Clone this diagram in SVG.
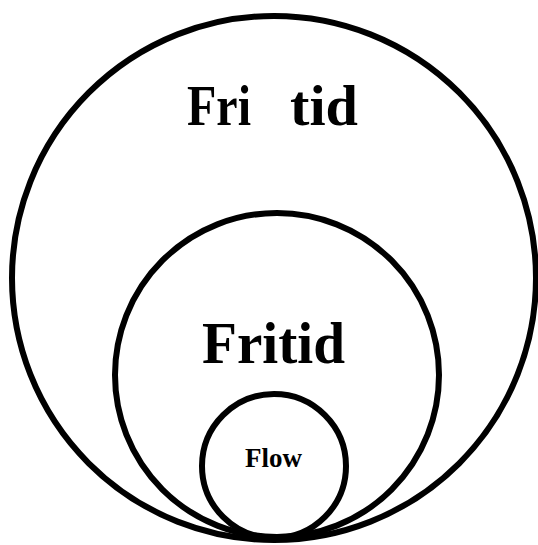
<svg xmlns="http://www.w3.org/2000/svg" width="538" height="545" viewBox="0 0 538 545">
<style>
.ring{fill:none;stroke:#000;stroke-width:6}
.lbl{font-family:"Liberation Serif","Times New Roman",serif;font-weight:bold;fill:#000}
</style>
<rect width="538" height="545" fill="#fff"/>
<g id="outer">
<circle class="ring" cx="274" cy="278" r="262"/>
<text class="lbl" font-size="56" y="125"><tspan x="187" textLength="64" lengthAdjust="spacingAndGlyphs">Fri</tspan> <tspan x="290" textLength="68" lengthAdjust="spacingAndGlyphs">tid</tspan></text>
</g>
<g id="middle">
<circle class="ring" cx="277" cy="375" r="162"/>
<text class="lbl" font-size="60" x="202" y="363" textLength="143" lengthAdjust="spacingAndGlyphs">Fritid</text>
</g>
<g id="inner">
<circle class="ring" cx="274" cy="466" r="72"/>
<text class="lbl" font-size="28" x="245" y="467" textLength="57" lengthAdjust="spacingAndGlyphs">Flow</text>
</g>
<g id="connectors"/>
</svg>
